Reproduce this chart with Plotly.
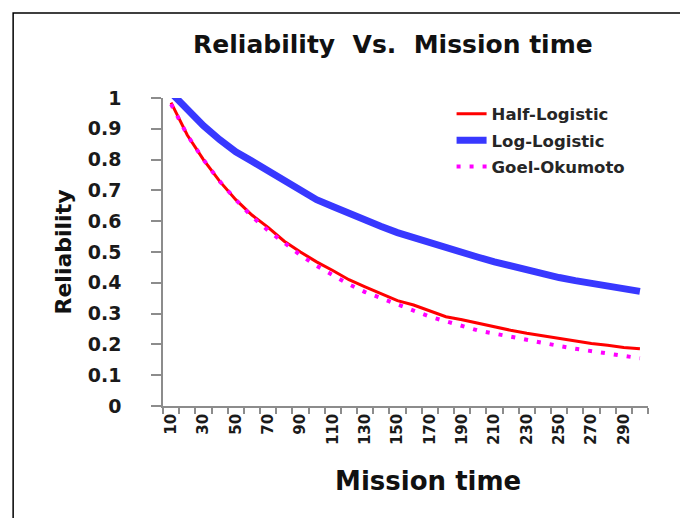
import plotly.graph_objects as go

mission_time = [10, 20, 30, 40, 50, 60, 70, 80, 90, 100,
                110, 120, 130, 140, 150, 160, 170, 180, 190, 200,
                210, 220, 230, 240, 250, 260, 270, 280, 290, 300]

half_logistic = [0.985, 0.88, 0.80, 0.73, 0.67, 0.62, 0.58, 0.535, 0.50, 0.468,
                 0.44, 0.41, 0.387, 0.365, 0.342, 0.328, 0.31, 0.29, 0.28, 0.268,
                 0.256, 0.246, 0.236, 0.228, 0.218, 0.21, 0.203, 0.197, 0.19, 0.186]

log_logistic = [1.017, 0.96, 0.91, 0.865, 0.825, 0.795, 0.765, 0.735, 0.705, 0.67,
                0.648, 0.625, 0.603, 0.583, 0.563, 0.546, 0.53, 0.514, 0.498, 0.483,
                0.468, 0.454, 0.441, 0.428, 0.417, 0.407, 0.397, 0.389, 0.38, 0.372]

goel_okumoto = [0.98, 0.88, 0.80, 0.73, 0.67, 0.615, 0.57, 0.53, 0.49, 0.455,
                0.425, 0.395, 0.37, 0.35, 0.33, 0.31, 0.29, 0.275, 0.26, 0.245,
                0.235, 0.225, 0.212, 0.203, 0.195, 0.186, 0.178, 0.17, 0.163, 0.155]

x_tick_labels = [10, 30, 50, 70, 90, 110, 130, 150, 170, 190, 210, 230, 250, 270, 290]
y_ticks = [0, 0.1, 0.2, 0.3, 0.4, 0.5, 0.6, 0.7, 0.8, 0.9, 1]

FONT = "DejaVu Sans"
AXIS_GRAY = "#8c8c8c"

fig = go.Figure()
fig.add_trace(go.Scatter(x=mission_time, y=half_logistic, mode="lines",
                         name="<b>Half-Logistic</b>", legendgroup="a",
                         line=dict(color="#ff0000", width=3)))
fig.add_trace(go.Scatter(x=mission_time, y=log_logistic, mode="lines",
                         name="<b>Log-Logistic</b>", legendgroup="b",
                         line=dict(color="#3838ff", width=7)))
fig.add_trace(go.Scatter(x=mission_time, y=goel_okumoto, mode="lines",
                         name="<b>Goel-Okumoto</b>", legendgroup="c",
                         line=dict(color="#ff00ff", width=4, dash="4px,9px")))

boundaries = [t - 5 for t in mission_time] + [mission_time[-1] + 5]

fig.update_layout(
    width=680, height=510,
    margin=dict(l=155, r=40, t=90, b=112),
    paper_bgcolor="white", plot_bgcolor="white",
    font=dict(family=FONT, color="#1a1a1a"),
    title=dict(text="<b>Reliability&nbsp; Vs.&nbsp; Mission time</b>",
               x=0.566, xanchor="center", y=0.929, yanchor="middle",
               font=dict(size=25, family=FONT, color="#111111")),
    showlegend=True,
    legend=dict(x=0.595, y=1.005, xanchor="left", yanchor="top",
                bgcolor="rgba(0,0,0,0)", tracegroupgap=2,
                font=dict(size=16.5, family=FONT, color="#262626")),
    xaxis=dict(
        range=[5, 305], showgrid=False, zeroline=False,
        showline=True, linecolor=AXIS_GRAY, linewidth=1.5,
        tickmode="array", tickvals=x_tick_labels,
        ticktext=["<b>%d</b>" % v for v in x_tick_labels],
        ticks="", tickangle=-90,
        tickfont=dict(size=15, family=FONT, color="#1a1a1a"),
        minor=dict(tickvals=boundaries, ticks="outside", ticklen=6,
                   tickcolor=AXIS_GRAY, tickwidth=1.5),
        title=dict(text="<b>&nbsp;&nbsp;&nbsp;&nbsp;&nbsp;Mission time</b>", standoff=28,
                   font=dict(size=26, family=FONT, color="#111111")),
    ),
    yaxis=dict(
        range=[0, 1], showgrid=False, zeroline=False,
        showline=True, linecolor=AXIS_GRAY, linewidth=1.5,
        tickmode="array", tickvals=y_ticks,
        ticktext=["<b>%g</b>&nbsp;" % v for v in y_ticks],
        ticks="outside", ticklen=10, tickcolor=AXIS_GRAY, tickwidth=1.5,
        ticklabelstandoff=20,
        tickfont=dict(size=19, family=FONT, color="#1a1a1a"),
        title=dict(text="<b>Reliability</b>", standoff=10,
                   font=dict(size=22, family=FONT, color="#111111")),
    ),
)

# outer chart border (open at the bottom, as in the reference)
fig.add_shape(type="path", xref="paper", yref="paper",
              path="M -0.309 -0.40 L -0.309 1.276 L 1.070 1.276 L 1.070 -0.40",
              line=dict(color="black", width=1.5), layer="above")

fig.write_html("out.html")
